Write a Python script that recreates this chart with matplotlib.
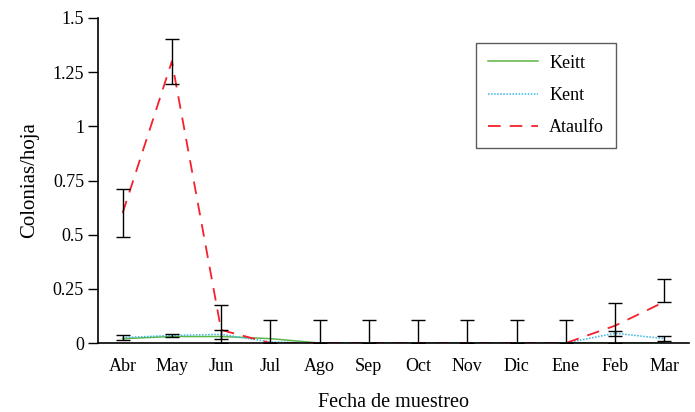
import matplotlib.pyplot as plt
import numpy as np

meses = ['Abr', 'May', 'Jun', 'Jul', 'Ago', 'Sep', 'Oct', 'Nov', 'Dic', 'Ene', 'Feb', 'Mar']

keitt = [0.02, 0.03, 0.03, 0.02, 0.0, 0.0, 0.0, 0.0, 0.0, 0.0, 0.0, 0.0]
kent = [0.025, 0.035, 0.04, 0.005, 0.0, 0.0, 0.0, 0.0, 0.0, 0.0, 0.045, 0.02]
ataulfo = [0.6, 1.30, 0.06, 0.0, 0.0, 0.0, 0.0, 0.0, 0.0, 0.0, 0.08, 0.19]

# error bars (lower, upper)
ataulfo_err_lo = [0.11, 0.105, 0.06, 0.0, 0.0, 0.0, 0.0, 0.0, 0.0, 0.0, 0.08, 0.0]
ataulfo_err_hi = [0.11, 0.105, 0.115, 0.105, 0.105, 0.105, 0.105, 0.105, 0.105, 0.105, 0.105, 0.105]
kent_err = [0.013, 0.008, 0.02, 0.0, 0.0, 0.0, 0.0, 0.0, 0.0, 0.0, 0.012, 0.012]

plt.rcParams['font.family'] = ['Liberation Serif', 'DejaVu Serif']

fig = plt.figure(figsize=(6.95, 4.12), dpi=100)
ax = fig.add_axes([98 / 695, 1 - 343 / 412, 591 / 695, 325 / 412])

x = np.arange(len(meses))

ax.plot(x, keitt, color='#5cb545', lw=1.1, label='Keitt')
ax.plot(x, kent, color='#39b6e8', lw=1.1, ls=(0, (1, 1)), label='Kent')
ax.plot(x, ataulfo, color='#f5202c', lw=1.3, ls=(0, (7, 5)), label='Ataulfo')

ax.errorbar(x, ataulfo, yerr=[ataulfo_err_lo, ataulfo_err_hi], fmt='none',
            ecolor='black', elinewidth=1, capsize=5, capthick=1)
mask = np.array(kent_err) > 0
ax.errorbar(x[mask], np.array(kent)[mask], yerr=np.array(kent_err)[mask], fmt='none',
            ecolor='black', elinewidth=1, capsize=5, capthick=1)

ax.set_xlim(-0.5, 11.5)
ax.set_ylim(0, 1.5)
ax.set_xticks(x)
ax.set_xticklabels(meses)
ax.set_yticks([0, 0.25, 0.5, 0.75, 1, 1.25, 1.5])
ax.set_yticklabels(['0', '0.25', '0.5', '0.75', '1', '1.25', '1.5'])
ax.tick_params(axis='x', length=0, labelsize=13, pad=11)
ax.tick_params(axis='y', length=7, width=1, direction='out', labelsize=13, pad=3)

for s in ['top', 'right']:
    ax.spines[s].set_visible(False)
for s in ['left', 'bottom']:
    ax.spines[s].set_linewidth(1.2)

ax.set_xlabel('Fecha de muestreo', fontsize=14.5, labelpad=13)
ax.set_ylabel('Colonias/hoja', fontsize=15, labelpad=10)

leg = ax.legend(loc='upper left', bbox_to_anchor=(378 / 591, 1 - 25 / 325), fontsize=13,
                frameon=True, fancybox=False, handlelength=2.8, handletextpad=0.6,
                labelspacing=0.85, borderpad=0.65, borderaxespad=0)
leg.get_frame().set_edgecolor('#333333')
leg.get_frame().set_linewidth(1)

fig.savefig('out.png', dpi=100)
